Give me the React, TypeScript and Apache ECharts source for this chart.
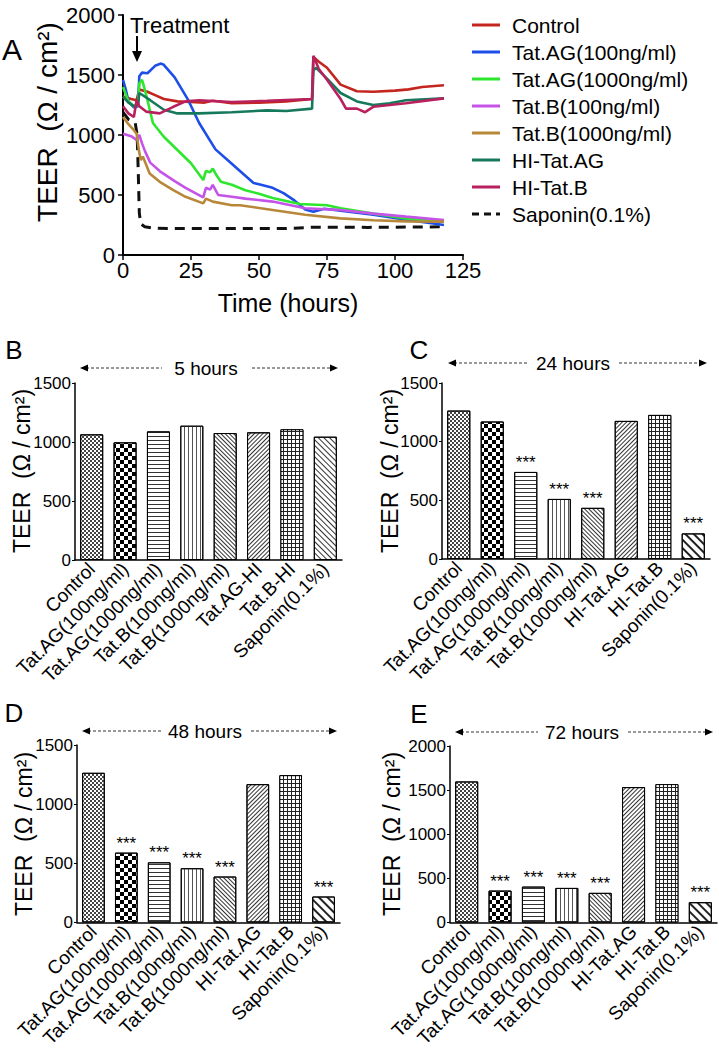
import React, { useEffect, useRef } from "react";
import * as echarts from "echarts";

const FONT = "'Liberation Sans', Arial, Helvetica, sans-serif";

// ---------- Panel A: time course ----------
const seriesNames = [
  "Control",
  "Tat.AG(100ng/ml)",
  "Tat.AG(1000ng/ml)",
  "Tat.B(100ng/ml)",
  "Tat.B(1000ng/ml)",
  "HI-Tat.AG",
  "HI-Tat.B",
  "Saponin(0.1%)",
];
const seriesColors = ["#c4251f", "#1d4fe8", "#2fe62f", "#c653e8", "#b8883a", "#17795b", "#b8215e", "#111111"];

const controlLine = [[0,1320],[3,1300],[5,1290],[6,1380],[9,1360],[12,1330],[15,1300],[20,1280],[25,1275],[30,1270],[33,1285],[40,1265],[50,1270],[60,1280],[69.5,1300],[70,1650],[72,1610],[75,1560],[80,1420],[86,1365],[92,1360],[100,1370],[105,1380],[110,1400],[118,1415]];
const tatAG100Line = [[0,1460],[1,1380],[2,1280],[4,1230],[5.5,1240],[6,1490],[7,1520],[9,1515],[12,1580],[14,1595],[15,1585],[19,1480],[24,1290],[28,1100],[34,880],[40,760],[43,700],[48,600],[50,590],[55,560],[59,515],[63,455],[67,380],[70,360],[74,385],[80,370],[92,335],[104,295],[118,250]];
const tatAG1000Line = [[0,1400],[2,1280],[4,1240],[5.5,1250],[6,1430],[7,1460],[8,1380],[9,1290],[11,1100],[15,985],[20,875],[25,765],[29.5,625],[30.5,700],[32,690],[33,720],[34.5,660],[36,610],[40,585],[45,540],[50,510],[55,475],[65,425],[75,415],[80,390],[92,345],[104,305],[118,280]];
const tatB100Line = [[0,1010],[3,990],[5,960],[6,1000],[7,930],[8,870],[10,770],[14,690],[19,615],[23,560],[29.5,480],[30.5,560],[32,545],[33,585],[35,500],[40,485],[45,470],[55,445],[67,390],[80,375],[92,345],[104,320],[118,292]];
const tatB1000Line = [[0,1150],[2,1090],[4,1040],[5,1010],[5.8,880],[6.5,790],[7.3,820],[9.8,680],[13.5,610],[18.5,540],[23,485],[29.5,430],[30.5,470],[33,445],[40,415],[43,415],[55,375],[67,335],[80,305],[92,290],[104,280],[118,278]];
const hiTatAGLine = [[0,1320],[2,1270],[4,1240],[5.5,1250],[6,1350],[10,1290],[15,1210],[20,1180],[28,1180],[40,1190],[53,1205],[60,1200],[69.5,1220],[70,1540],[71,1560],[75,1470],[80,1350],[86,1280],[92,1250],[98,1265],[104,1290],[118,1305]];
const hiTatBLine = [[0,1240],[2,1180],[4,1150],[5,1290],[6,1240],[8.5,1195],[13.5,1180],[18.5,1235],[23,1280],[28,1290],[40,1275],[53,1285],[69.5,1300],[70,1660],[72,1550],[75,1460],[80,1300],[82,1220],[86,1220],[89,1190],[92,1235],[98,1250],[104,1265],[118,1305]];
const saponinLine = [[0,1190],[2,1130],[4.5,1100],[5.2,1000],[5.6,700],[6,350],[6.5,260],[8,235],[12,222],[40,220],[60,220],[70,232],[90,230],[118,235]];
const timeLines = [controlLine, tatAG100Line, tatAG1000Line, tatB100Line, tatB1000Line, hiTatAGLine, hiTatBLine, saponinLine];

// ---------- Bar panels ----------
const catsB = ["Control","Tat.AG(100ng/ml)","Tat.AG(1000ng/ml)","Tat.B(100ng/ml)","Tat.B(1000ng/ml)","Tat.AG-HI","Tat.B-HI","Saponin(0.1%)"];
const catsCDE = ["Control","Tat.AG(100ng/ml)","Tat.AG(1000ng/ml)","Tat.B(100ng/ml)","Tat.B(1000ng/ml)","HI-Tat.AG","HI-Tat.B","Saponin(0.1%)"];
const values5h = [1065, 997, 1090, 1138, 1076, 1082, 1108, 1045];
const values24h = [1265, 1172, 742, 512, 436, 1177, 1228, 218];
const values48h = [1265, 590, 508, 458, 388, 1169, 1245, 219];
const values72h = [1598, 361, 406, 391, 335, 1534, 1568, 229];
const sig5h = ["", "", "", "", "", "", "", ""];
const sig24h = ["", "", "***", "***", "***", "", "", "***"];
const sig48h = ["", "***", "***", "***", "***", "", "", "***"];
const sig72h = ["", "***", "***", "***", "***", "", "", "***"];

// In ECharts decals, +PI/4 gives "\" hatching and -PI/4 gives "/" hatching.
function patterns(wideSaponin: boolean) {
  return [
    { color: "#fff", decal: { symbol: "rect", symbolSize: 1, color: "#444", dashArrayX: [[2, 2], [0, 2, 2, 0]], dashArrayY: [2, 0] } },
    { color: "#fff", decal: { symbol: "rect", symbolSize: 1, color: "#000", dashArrayX: [[4, 4], [0, 4, 4, 0]], dashArrayY: [4, 0] } },
    { color: "#fff", decal: { symbol: "rect", symbolSize: 1, color: "#333", dashArrayX: [1, 0], dashArrayY: [1, 3] } },
    { color: "#fff", decal: { symbol: "rect", symbolSize: 1, color: "#555", dashArrayX: [1, 3], dashArrayY: [1, 0] } },
    { color: "#fff", decal: { symbol: "rect", symbolSize: 1, color: "#333", dashArrayX: [1, 0], dashArrayY: [1, 2], rotation: Math.PI / 4 } },
    { color: "#fff", decal: { symbol: "rect", symbolSize: 1, color: "#333", dashArrayX: [1, 0], dashArrayY: [1, 2], rotation: -Math.PI / 4 } },
    { color: "#222", decal: { symbol: "rect", symbolSize: 1, color: "#fff", dashArrayX: [3, 1], dashArrayY: [3, 1] } },
    wideSaponin
      ? { color: "#fff", decal: { symbol: "rect", symbolSize: 1, color: "#222", dashArrayX: [1, 0], dashArrayY: [1.5, 4], rotation: Math.PI / 4 } }
      : { color: "#fff", decal: { symbol: "rect", symbolSize: 1, color: "#333", dashArrayX: [1, 0], dashArrayY: [1, 2.5], rotation: Math.PI / 4 } },
  ];
}

const grids = [
  { left: 123, top: 15, width: 340, height: 240 },
  { left: 75, top: 383, width: 267, height: 177 },
  { left: 442, top: 383, width: 268, height: 176 },
  { left: 77, top: 745, width: 263, height: 178 },
  { left: 450, top: 746, width: 267, height: 177 },
];

const plain = (v: number) => String(v);

function txt(text: string, x: number, y: number, size: number, align = "left", rotation = 0) {
  return {
    type: "text",
    x,
    y,
    rotation,
    style: {
      text,
      fontSize: size,
      fontFamily: FONT,
      fill: "#000",
      align,
      textAlign: align,
      verticalAlign: "middle",
      textVerticalAlign: "middle",
    },
  };
}

function header(x1: number, x2: number, y: number, tx: number, label: string) {
  const half = 37;
  const ls = { stroke: "#333", lineWidth: 1, lineDash: [3, 2] };
  return [
    { type: "line", shape: { x1: x1 + 6, y1: y, x2: tx - half - 7, y2: y }, style: ls },
    { type: "line", shape: { x1: tx + half + 9, y1: y, x2: x2 - 6, y2: y }, style: ls },
    { type: "polygon", shape: { points: [[x1, y], [x1 + 8, y - 3.5], [x1 + 8, y + 3.5]] }, style: { fill: "#000" } },
    { type: "polygon", shape: { points: [[x2, y], [x2 - 8, y - 3.5], [x2 - 8, y + 3.5]] }, style: { fill: "#000" } },
    txt(label, tx, y, 19, "center"),
  ];
}

function barAxes(gridIndex: number, cats: string[], max: number) {
  const x = {
    type: "category",
    gridIndex,
    data: cats,
    axisLine: { lineStyle: { color: "#000", width: 1.5 } },
    axisTick: { alignWithLabel: true, length: 4, lineStyle: { color: "#000" } },
    axisLabel: { interval: 0, rotate: 45, fontSize: 19, fontFamily: FONT, color: "#000", margin: 6 },
  };
  const y = {
    type: "value",
    gridIndex,
    min: 0,
    max,
    interval: 500,
    axisLine: { show: true, lineStyle: { color: "#000", width: 1.5 } },
    axisTick: { show: true, length: 3, lineStyle: { color: "#000" } },
    splitLine: { show: false },
    axisLabel: { fontSize: 17, fontFamily: FONT, color: "#000", margin: 4, formatter: plain },
  };
  return { x, y };
}

function barSeries(idx: number, values: number[], sig: string[], wide: boolean) {
  const pats = patterns(wide);
  return {
    type: "bar",
    xAxisIndex: idx,
    yAxisIndex: idx,
    barWidth: "69%",
    data: values.map((v, i) => ({
      value: v,
      itemStyle: { color: pats[i].color, decal: pats[i].decal, borderColor: "#000", borderWidth: 1 },
    })),
    label: {
      show: true,
      position: "top",
      distance: 1,
      fontSize: 17,
      fontFamily: FONT,
      color: "#000",
      formatter: (p: any) => sig[p.dataIndex],
    },
  };
}

export default function App() {
  const ref = useRef<HTMLDivElement>(null);
  useEffect(() => {
    if (!ref.current) return;
    const chart = echarts.init(ref.current, undefined, { renderer: "svg" });

    const axB = barAxes(1, catsB, 1500);
    const axC = barAxes(2, catsCDE, 1500);
    const axD = barAxes(3, catsCDE, 1500);
    const axE = barAxes(4, catsCDE, 2000);

    const lineSeries = timeLines.map((d, i) => ({
      type: "line",
      name: seriesNames[i],
      xAxisIndex: 0,
      yAxisIndex: 0,
      data: d,
      showSymbol: false,
      symbol: "none",
      lineStyle: { color: seriesColors[i], width: i === 7 ? 3 : 2.6, type: i === 7 ? [10, 7] : "solid" },
      z: i === 7 ? 1 : 2,
    }));

    const legendEls: any[] = [];
    seriesNames.forEach((n, i) => {
      const y = 25 + i * 27;
      legendEls.push({
        type: "line",
        shape: { x1: 472, y1: y, x2: 500, y2: y },
        style: { stroke: seriesColors[i], lineWidth: 3, lineDash: i === 7 ? [7, 5] : null },
      });
      legendEls.push(txt(n, 512, y, 21));
    });

    const graphic: any[] = [
      txt("A", 12, 49, 30, "center"),
      txt("TEER  (\u03A9 / cm\u00B2)", 47, 122, 28, "center", Math.PI / 2),
      txt("Time (hours)", 288, 303, 25, "center"),
      txt("Treatment", 130, 25, 22),
      { type: "line", shape: { x1: 137, y1: 36, x2: 137, y2: 55 }, style: { stroke: "#000", lineWidth: 2 } },
      { type: "polygon", shape: { points: [[132, 51], [142, 51], [137, 62]] }, style: { fill: "#000" } },
      ...legendEls,
      txt("B", 14, 350, 26, "center"),
      txt("C", 419, 350, 26, "center"),
      txt("D", 14, 713, 26, "center"),
      txt("E", 419, 714, 26, "center"),
      txt("TEER  (\u03A9 / cm\u00B2)", 22, 471, 23, "center", Math.PI / 2),
      txt("TEER  (\u03A9 / cm\u00B2)", 390, 471, 23, "center", Math.PI / 2),
      txt("TEER  (\u03A9 / cm\u00B2)", 24, 834, 23, "center", Math.PI / 2),
      txt("TEER  (\u03A9 / cm\u00B2)", 392, 834, 23, "center", Math.PI / 2),
      ...header(80, 338, 368, 206, "5 hours"),
      ...header(448, 707, 363, 573, "24 hours"),
      ...header(82, 337, 731, 205, "48 hours"),
      ...header(455, 713, 732, 582, "72 hours"),
    ];

    chart.setOption({
      animation: false,
      backgroundColor: "#fff",
      grid: grids,
      xAxis: [
        {
          type: "value",
          gridIndex: 0,
          min: 0,
          max: 125,
          interval: 25,
          axisLine: { show: true, lineStyle: { color: "#000", width: 2 } },
          axisTick: { show: true, length: 5, lineStyle: { color: "#000", width: 1.5 } },
          splitLine: { show: false },
          axisLabel: { fontSize: 22, fontFamily: FONT, color: "#000", margin: 4, formatter: plain },
        },
        axB.x,
        axC.x,
        axD.x,
        axE.x,
      ],
      yAxis: [
        {
          type: "value",
          gridIndex: 0,
          min: 0,
          max: 2000,
          interval: 500,
          axisLine: { show: true, lineStyle: { color: "#000", width: 2 } },
          axisTick: { show: true, length: 5, lineStyle: { color: "#000", width: 1.5 } },
          splitLine: { show: false },
          axisLabel: { fontSize: 22, fontFamily: FONT, color: "#000", margin: 8, formatter: plain },
        },
        axB.y,
        axC.y,
        axD.y,
        axE.y,
      ],
      series: [
        ...lineSeries,
        barSeries(1, values5h, sig5h, false),
        barSeries(2, values24h, sig24h, true),
        barSeries(3, values48h, sig48h, true),
        barSeries(4, values72h, sig72h, true),
      ],
      graphic,
    });
    return () => chart.dispose();
  }, []);
  return <div ref={ref} style={{ position: "absolute", left: 0, top: 0, width: 719, height: 1050, background: "#fff" }} />;
}
